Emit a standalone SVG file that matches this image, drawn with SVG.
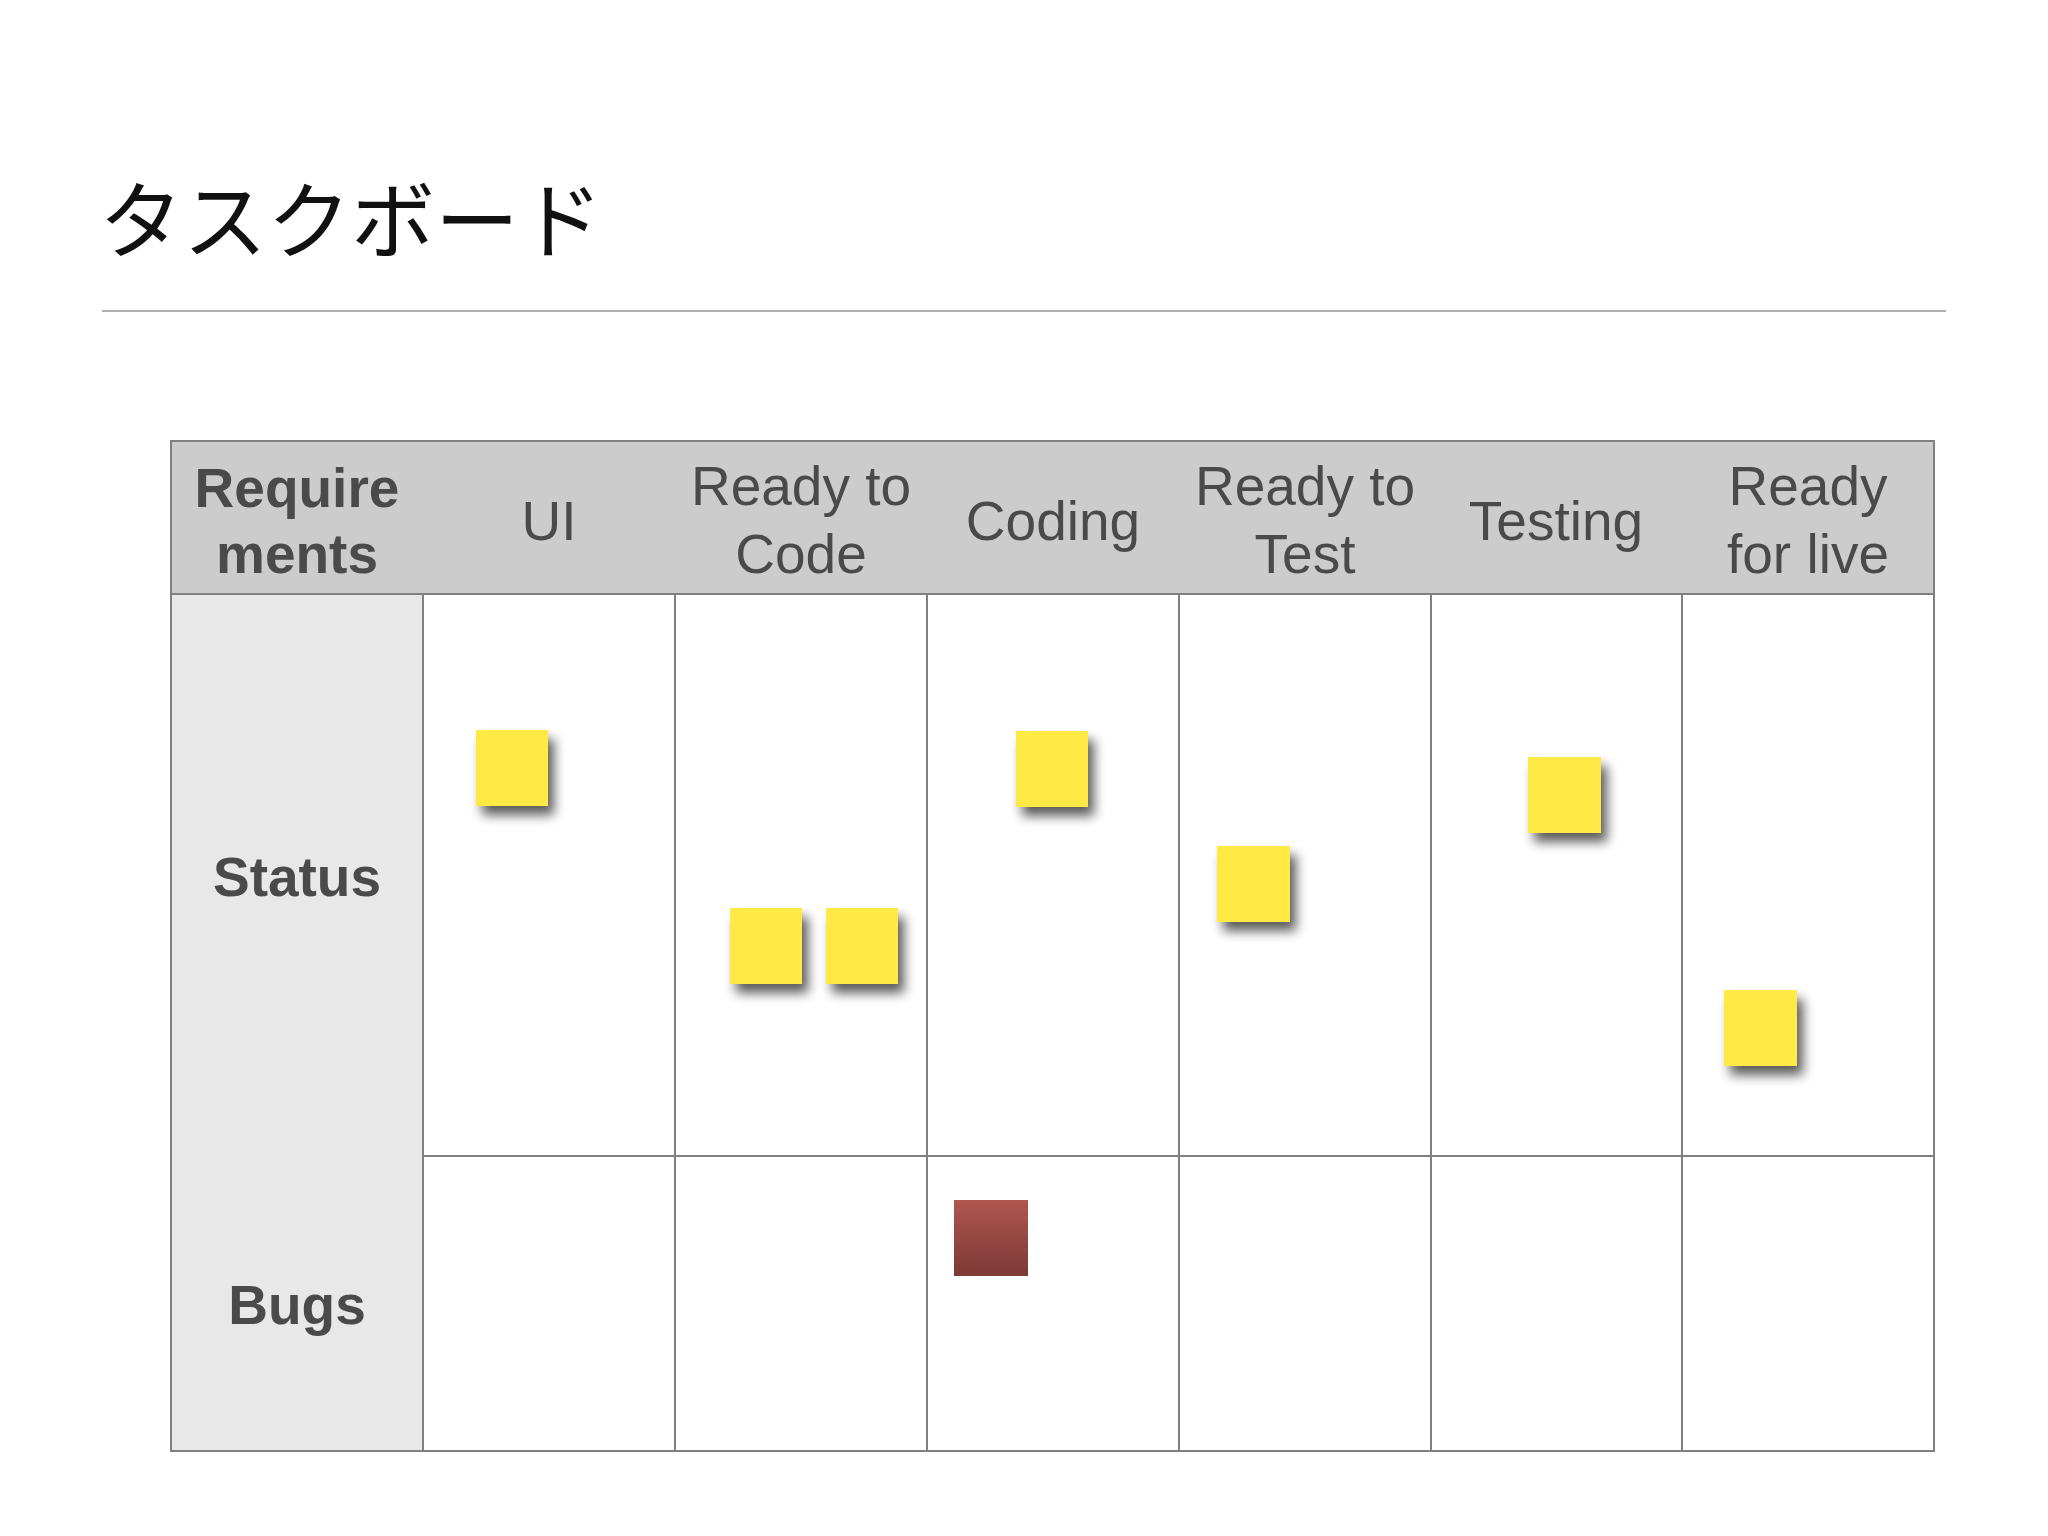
<svg xmlns="http://www.w3.org/2000/svg" width="2048" height="1536" viewBox="0 0 2048 1536">
  <defs>
    <style>
      .title { font-family: "Noto Sans CJK JP", "Noto Sans", sans-serif; font-size: 84px; fill: #111111; }
      .hdr { font-family: "Liberation Sans", Arial, sans-serif; font-size: 55px; fill: #4a4a4a; text-anchor: middle; }
      .bold { font-weight: bold; }
      .grid { stroke: #808080; stroke-width: 2; fill: none; }
      .note { fill: #ffe945; filter: url(#shadow); }
      .bug { fill: url(#bugGrad); }
    </style>
    <filter id="shadow" x="-30%" y="-30%" width="170%" height="170%">
      <feGaussianBlur in="SourceAlpha" stdDeviation="6"/>
      <feOffset dx="6" dy="9" result="b"/>
      <feComponentTransfer><feFuncA type="linear" slope="0.65"/></feComponentTransfer>
      <feMerge><feMergeNode/><feMergeNode in="SourceGraphic"/></feMerge>
    </filter>
    <linearGradient id="bugGrad" x1="0" y1="0" x2="0" y2="1">
      <stop offset="0" stop-color="#b15550"/>
      <stop offset="1" stop-color="#7c3a36"/>
    </linearGradient>
  </defs>

  <rect x="0" y="0" width="2048" height="1536" fill="#ffffff"/>

  <g id="title">
    <text class="title" x="99" y="252">タスクボード</text>
    <line x1="102" y1="311" x2="1946" y2="311" stroke="#b0b0b0" stroke-width="2"/>
  </g>

  <g id="board">
    <rect x="171" y="441" width="1763" height="153" fill="#cccccc"/>
    <rect x="171" y="594" width="252" height="857" fill="#e8e8e8"/>
    <rect x="423" y="594" width="1511" height="857" fill="#ffffff"/>
    <g class="grid">
      <rect x="171" y="441" width="1763" height="1010"/>
      <line x1="171" y1="594" x2="1934" y2="594"/>
      <line x1="423" y1="1156" x2="1934" y2="1156"/>
      <line x1="423" y1="594" x2="423" y2="1451"/>
      <line x1="675" y1="594" x2="675" y2="1451"/>
      <line x1="927" y1="594" x2="927" y2="1451"/>
      <line x1="1179" y1="594" x2="1179" y2="1451"/>
      <line x1="1431" y1="594" x2="1431" y2="1451"/>
      <line x1="1682" y1="594" x2="1682" y2="1451"/>
    </g>
  </g>

  <g id="headers">
    <g id="h-requirements"><text class="hdr bold" x="297" y="507">Require</text><text class="hdr bold" x="297" y="573">ments</text></g>
    <g id="h-ui"><text class="hdr" x="549" y="540">UI</text></g>
    <g id="h-ready-code"><text class="hdr" x="801" y="505">Ready to</text><text class="hdr" x="801" y="573">Code</text></g>
    <g id="h-coding"><text class="hdr" x="1053" y="540">Coding</text></g>
    <g id="h-ready-test"><text class="hdr" x="1305" y="505">Ready to</text><text class="hdr" x="1305" y="573">Test</text></g>
    <g id="h-testing"><text class="hdr" x="1556" y="540">Testing</text></g>
    <g id="h-ready-live"><text class="hdr" x="1808" y="505">Ready</text><text class="hdr" x="1808" y="573">for live</text></g>
  </g>

  <g id="row-labels">
    <g id="l-status"><text class="hdr bold" x="297" y="896">Status</text></g>
    <g id="l-bugs"><text class="hdr bold" x="297" y="1324">Bugs</text></g>
  </g>

  <g id="notes">
    <g id="note-ui"><rect class="note" x="476" y="730" width="72" height="76"/></g>
    <g id="note-code-1"><rect class="note" x="730" y="908" width="72" height="76"/></g>
    <g id="note-code-2"><rect class="note" x="826" y="908" width="72" height="76"/></g>
    <g id="note-coding"><rect class="note" x="1016" y="731" width="72" height="76"/></g>
    <g id="note-ready-test"><rect class="note" x="1217" y="846" width="73" height="76"/></g>
    <g id="note-testing"><rect class="note" x="1528" y="757" width="73" height="76"/></g>
    <g id="note-live"><rect class="note" x="1724" y="990" width="73" height="76"/></g>
    <g id="bug-coding"><rect class="bug" x="954" y="1200" width="74" height="76"/></g>
  </g>
</svg>
